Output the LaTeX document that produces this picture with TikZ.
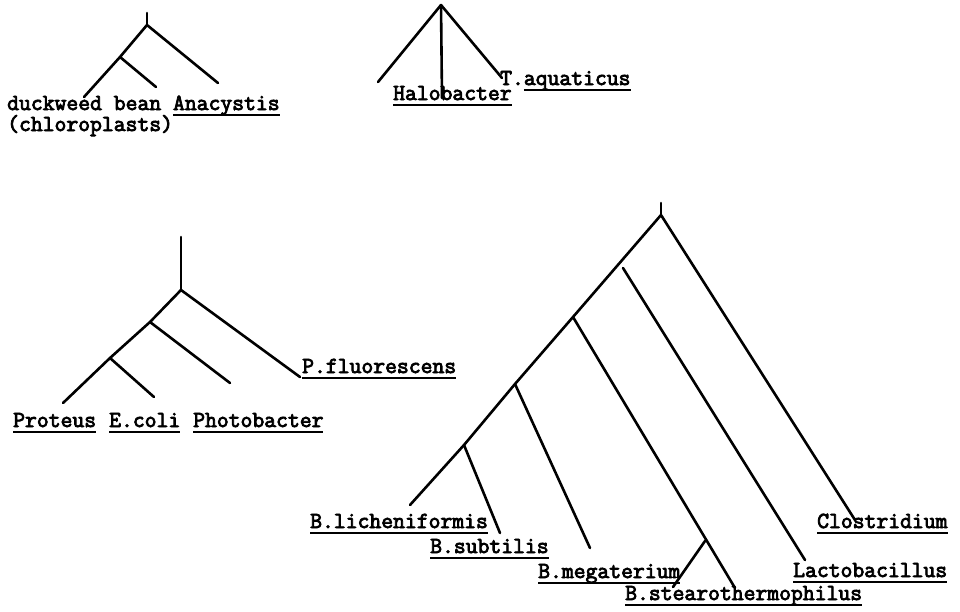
\documentclass[tikz,border=0pt]{standalone}
\usepackage{fontspec}
\newfontfamily\typewriter[FakeBold=3.5]{Latin Modern Mono}
\usepackage{tikz}

% underline set close under the baseline, as on the typewriter
\newcommand\ulin[1]{\setbox0\hbox{#1}\rlap{\vrule height -3.5pt depth 5.5pt width \wd0}\box0}

\begin{document}
\begin{tikzpicture}[x=1pt, y=-1pt,
    branch/.style={line width=2.6pt, line cap=round, black},
    taxon/.style={inner sep=0pt, anchor=base west, font=\fontsize{23}{27}\selectfont\typewriter}]

    \useasboundingbox (0,0) rectangle (960,611);

    % Tree 1 - chloroplasts and Anacystis
    \coordinate (T1top) at (147,13);
    \coordinate (T1root) at (147,25);
    \coordinate (T1inner) at (120,57);
    \coordinate (duckTip) at (84,97);
    \coordinate (beanTip) at (156,87);
    \coordinate (anaTip) at (218,83);
    \node[taxon] (duck) at (7,110) {duckweed bean \ulin{Anacystis}};
    \node[taxon] (chloro) at (7,131) {(chloroplasts)};
    \draw[branch] (T1top) -- (T1root);
    \draw[branch] (T1root) -- (anaTip);
    \draw[branch] (T1root) -- (T1inner) -- (duckTip);
    \draw[branch] (T1inner) -- (beanTip);

    % Tree 2 - Halobacter and T.aquaticus
    \coordinate (T2root) at (441,5);
    \coordinate (leftTip) at (378,82);
    \coordinate (haloTip) at (442,98);
    \coordinate (aquaTip) at (502,78);
    \node[taxon] (halo) at (393,100) {\ulin{Halobacter}};
    \node[taxon] (aqua) at (500,85) {T.\ulin{aquaticus}};
    \draw[branch] (T2root) -- (leftTip);
    \draw[branch] (T2root) -- (haloTip);
    \draw[branch] (T2root) -- (aquaTip);

    % Tree 3 - enterics and Photobacter
    \coordinate (T3top) at (181,237);
    \coordinate (T3root) at (181,290);
    \coordinate (T3a) at (150,322);
    \coordinate (T3b) at (110,358);
    \coordinate (fluorTip) at (300,377);
    \coordinate (photoTip) at (230,383);
    \coordinate (protTip) at (63,403);
    \coordinate (coliTip) at (154,397);
    \node[taxon] (fluor) at (302,373) {\ulin{P.fluorescens}};
    \node[taxon] (prot) at (13,427) {\ulin{Proteus}};
    \node[taxon] (coli) at (109,427) {\ulin{E.coli}};
    \node[taxon] (photo) at (193,427) {\ulin{Photobacter}};
    \draw[branch] (T3top) -- (T3root);
    \draw[branch] (T3root) -- (fluorTip);
    \draw[branch] (T3root) -- (T3a) -- (T3b) -- (protTip);
    \draw[branch] (T3a) -- (photoTip);
    \draw[branch] (T3b) -- (coliTip);

    % Tree 4 - Bacillus, Lactobacillus, Clostridium
    \coordinate (T4top) at (661,203);
    \coordinate (T4root) at (661,215);
    \coordinate (T4a) at (573,317);
    \coordinate (T4b) at (515,384);
    \coordinate (T4c) at (464,445);
    \coordinate (T4d) at (705,541);
    \coordinate (closTip) at (855,520);
    \coordinate (lactoStart) at (623,268);
    \coordinate (lactoTip) at (805,560);
    \coordinate (stearoTip) at (735,588);
    \coordinate (megaEnd) at (673,587);
    \coordinate (megaTip) at (590,548);
    \coordinate (subtTip) at (500,533);
    \coordinate (lichTip) at (410,505);
    \node[taxon] (clos) at (817,528) {\ulin{Clostridium}};
    \node[taxon] (lacto) at (793,577) {\ulin{Lactobacillus}};
    \node[taxon] (stearo) at (625,600) {\ulin{B.stearothermophilus}};
    \node[taxon] (mega) at (538,578) {\ulin{B.megaterium}};
    \node[taxon] (subt) at (430,553) {\ulin{B.subtilis}};
    \node[taxon] (lich) at (310,528) {\ulin{B.licheniformis}};
    \draw[branch] (T4top) -- (T4root);
    \draw[branch] (T4root) -- (closTip);
    \draw[branch] (T4root) -- (T4a) -- (T4b) -- (T4c) -- (lichTip);
    \draw[branch] (lactoStart) -- (lactoTip);
    \draw[branch] (T4a) -- (stearoTip);
    \draw[branch] (T4d) -- (megaEnd);
    \draw[branch] (T4b) -- (megaTip);
    \draw[branch] (T4c) -- (subtTip);

\end{tikzpicture}
\end{document}
